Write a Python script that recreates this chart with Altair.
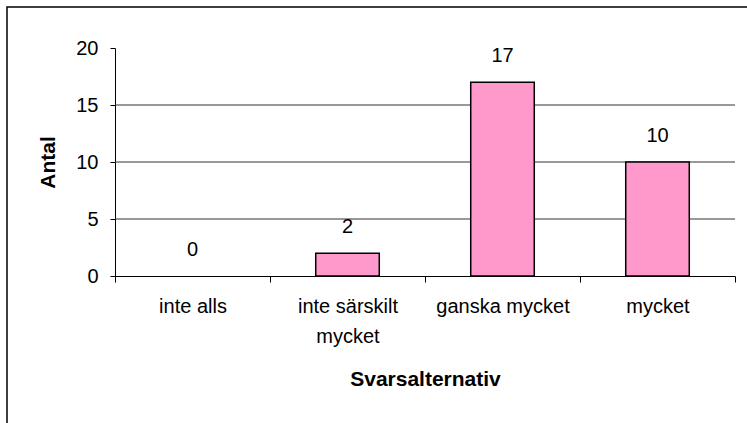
import altair as alt
import pandas as pd

categories = ["inte alls", "inte särskilt mycket", "ganska mycket", "mycket"]
values = [0, 2, 17, 10]
y_ticks = [0, 5, 10, 15, 20]
grid_values = [5, 10, 15]

df = pd.DataFrame({"cat": categories, "val": values})
grid_df = pd.DataFrame({"g": grid_values})
frame_df = pd.DataFrame({"f": [0]})

W, H = 620, 228
FONT = "Liberation Sans"
LBL = 20
TTL = 21

x_enc = alt.X(
    "cat:N",
    sort=categories,
    scale=alt.Scale(paddingInner=0, paddingOuter=0),
    axis=alt.Axis(
        title="Svarsalternativ",
        tickBand="extent",
        labelAngle=0,
        labelFont=FONT,
        labelFontSize=LBL,
        labelColor="black",
        labelBaseline="top",
        labelPadding=14,
        labelLineHeight=30,
        labelExpr="datum.label == 'inte särskilt mycket' ? ['inte särskilt', 'mycket'] : datum.label",
        tickSize=6,
        tickColor="black",
        domainColor="black",
        titleFont=FONT,
        titleFontSize=TTL,
        titleFontWeight="bold",
        titleColor="black",
        titleX=310,
        titleY=103,
        titleBaseline="middle",
        titleAnchor="middle",
        titleAlign="center",
    ),
)

y_scale = alt.Scale(domain=[0, 20], nice=False)

bars = alt.Chart(df).transform_filter(alt.datum.val > 0).mark_bar(
    width={"band": 0.41}, color="#FF99CC", stroke="black", strokeWidth=1.5
).encode(
    x=x_enc,
    y=alt.Y(
        "val:Q",
        scale=y_scale,
        axis=alt.Axis(
            title="Antal",
            values=y_ticks,
            grid=False,
            tickSize=5,
            tickColor="black",
            domainColor="black",
            labelFont=FONT,
            labelFontSize=LBL,
            labelColor="black",
            labelPadding=12,
            titleFont=FONT,
            titleFontSize=TTL,
            titleFontWeight="bold",
            titleColor="black",
            titleX=-67,
            titleY=114,
            titleAngle=270,
            titleAlign="center",
            titleBaseline="middle",
        ),
    ),
)

grid = alt.Chart(grid_df).mark_rule(color="#333333", strokeWidth=1).encode(
    y=alt.Y("g:Q", scale=y_scale),
)

labels = alt.Chart(df).mark_text(
    font=FONT, fontSize=LBL, color="black", baseline="alphabetic", dy=-20
).encode(
    x=alt.X("cat:N", sort=categories),
    y=alt.Y("val:Q", scale=y_scale),
    text=alt.Text("val:Q"),
)

frame = alt.Chart(frame_df).mark_rect(fill=None, stroke="black", strokeWidth=1.5).encode(
    x=alt.value(-108), x2=alt.value(700), y=alt.value(-41), y2=alt.value(420)
)

chart = alt.layer(grid, bars, labels, frame).properties(
    width=W,
    height=H,
    autosize=alt.AutoSizeParams(type="none"),
    padding={"left": 115, "top": 48, "right": 12, "bottom": 147},
    background="white",
).configure_view(stroke=None)

chart.save("out.html", embed_options={"renderer": "svg", "actions": False})
